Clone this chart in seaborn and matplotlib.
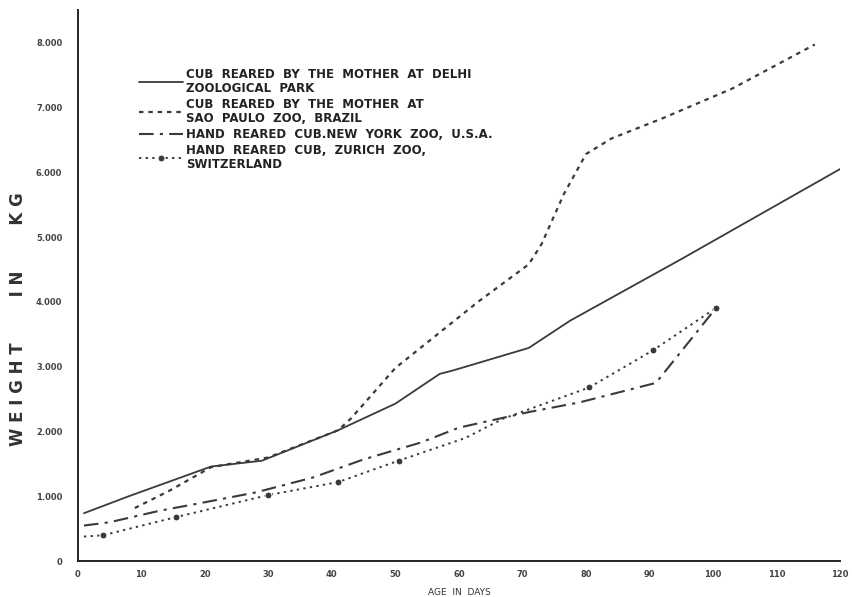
"""
Growth of cubs - weight vs age, four zoos
Recreated from a scanned hand-drawn chart.
"""

import matplotlib.pyplot as plt
import seaborn as sns

sns.set_style("white")
plt.rcParams["font.family"] = ["DejaVu Sans"]
plt.rcParams["font.weight"] = "bold"

# ----------------------------------------------------------
# DATA
# ----------------------------------------------------------
delhi_age = [1, 8, 21, 29, 41, 50, 57, 59, 71, 77.5, 95, 120]
delhi_wt = [0.74, 1.00, 1.46, 1.55, 2.02, 2.43, 2.89, 2.94, 3.29, 3.71, 4.66, 6.05]

sao_age = [9, 14.5, 21, 30, 41, 43, 50, 63, 71, 73, 76.5, 80, 84, 92, 103, 116]
sao_wt = [0.82, 1.09, 1.45, 1.60, 2.02, 2.20, 2.98, 4.00, 4.58, 4.89, 5.66, 6.28, 6.52, 6.83, 7.29, 7.97]

ny_age = [1, 5, 13, 19, 28, 37, 45, 54, 60, 71, 79, 91, 100.5]
ny_wt = [0.55, 0.60, 0.78, 0.89, 1.06, 1.29, 1.57, 1.83, 2.06, 2.30, 2.45, 2.75, 3.91]

zurich_age = [1, 4, 15.5, 30, 41, 50.5, 61, 67, 80.5, 90.5, 100.5]
zurich_wt = [0.38, 0.40, 0.68, 1.02, 1.22, 1.55, 1.90, 2.20, 2.68, 3.25, 3.91]
zurich_marks = [1, 2, 3, 4, 5, 8, 9, 10]

labels = [
    "CUB  REARED  BY  THE  MOTHER  AT  DELHI\nZOOLOGICAL  PARK",
    "CUB  REARED  BY  THE  MOTHER  AT\nSAO  PAULO  ZOO,  BRAZIL",
    "HAND  REARED  CUB.NEW  YORK  ZOO,  U.S.A.",
    "HAND  REARED  CUB,  ZURICH  ZOO,\nSWITZERLAND",
]

x_ticks = list(range(0, 121, 10))
y_ticks = list(range(0, 9))
y_tick_labels = ["0"] + [f"{v}.000" for v in range(1, 9)]

# ----------------------------------------------------------
# PLOT
# ----------------------------------------------------------
ink = "#3a3a3a"
fig = plt.figure(figsize=(8.53, 5.97), dpi=100)
ax = fig.add_axes([0.091, 0.060, 0.894, 0.923])

sns.lineplot(x=delhi_age, y=delhi_wt, ax=ax, color=ink, linewidth=1.3,
             label=labels[0])
sns.lineplot(x=sao_age, y=sao_wt, ax=ax, color=ink, linewidth=1.6,
             linestyle=(0, (2, 2.2)), label=labels[1])
sns.lineplot(x=ny_age, y=ny_wt, ax=ax, color=ink, linewidth=1.5,
             linestyle=(0, (7, 3, 1.5, 3)), label=labels[2])
sns.lineplot(x=zurich_age, y=zurich_wt, ax=ax, color=ink, linewidth=1.4,
             linestyle=(0, (1.2, 2.2)), marker="o", markersize=5,
             markevery=zurich_marks, label=labels[3])

ax.set_xlim(0, 120)
ax.set_ylim(0, 8.5)
ax.set_xticks(x_ticks)
ax.set_yticks(y_ticks)
ax.set_yticklabels(y_tick_labels)
ax.tick_params(axis="both", labelsize=6, colors="#444444", length=3, width=1)
ax.tick_params(axis="y", pad=8)

for side in ["top", "right"]:
    ax.spines[side].set_visible(False)
for side in ["left", "bottom"]:
    ax.spines[side].set_color("#222222")
    ax.spines[side].set_linewidth(1.4)

ax.set_xlabel("AGE  IN  DAYS", fontsize=6.5, color="#333333", labelpad=6)
ax.set_ylabel("W E I G H T        I N        K G", fontsize=12,
              fontweight="bold", color="#333333")
ax.yaxis.set_label_coords(-0.067, 0.44)

leg = ax.legend(loc="upper left", bbox_to_anchor=(0.080, 0.895), frameon=False,
                fontsize=8.5, handlelength=3.8, handletextpad=0.2,
                labelspacing=0.25, borderaxespad=0, borderpad=0)
for txt in leg.get_texts():
    txt.set_color("#222222")
    txt.set_linespacing(1.1)

fig.savefig("out.png", dpi=100)
